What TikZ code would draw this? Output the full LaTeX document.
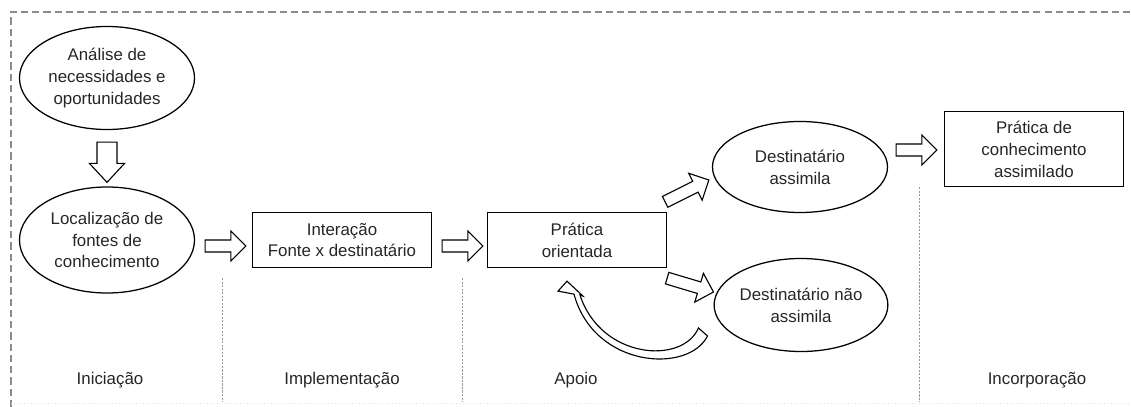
\documentclass[tikz,border=0pt]{standalone}
\usepackage{fontspec}
\setmainfont{Liberation Sans}
\usetikzlibrary{calc,shapes.geometric}

\tikzset{
  etapa/.style={ellipse, draw, line width=0.9pt, inner sep=0pt, align=center,
    minimum width=4.375cm, minimum height=2.575cm},
  caixa/.style={rectangle, draw, line width=0.9pt, inner sep=0pt, align=center,
    minimum width=4.475cm, minimum height=1.375cm},
  fase/.style={inner sep=0pt},
  seta/.style={draw, fill=white, line width=0.8pt, line join=miter},
  moldura/.style={draw=black!45, line width=1pt, dash pattern=on 5pt off 3pt},
  divisor/.style={draw=black!40, line width=0.4pt, dash pattern=on 1.5pt off 1pt},
}

% hollow block arrow from #1 to #2
\def\faw{0.15cm}\def\faW{0.375cm}\def\faL{0.375cm}
\newcommand{\fatarrow}[2]{%
  \path (#1) coordinate (fa-s) (#2) coordinate (fa-e);
  \path ($(fa-e)!\faL!(fa-s)$) coordinate (fa-h);
  \draw[seta] ($(fa-s)!\faw!90:(fa-e)$) -- ($(fa-h)!\faw!90:(fa-e)$)
    -- ($(fa-h)!\faW!90:(fa-e)$) -- (fa-e) -- ($(fa-h)!\faW!-90:(fa-e)$)
    -- ($(fa-h)!\faw!-90:(fa-e)$) -- ($(fa-s)!\faw!-90:(fa-e)$) -- cycle;}

\begin{document}
\begin{tikzpicture}[x=0.025cm, y=-0.025cm, font=\fontsize{12}{15.6}\selectfont, text=black!85]
  \useasboundingbox (0,0) rectangle (1131,407);

  % frame and phases
  \draw[moldura] (11,407) -- (11,12) -- (1131,12);
  \draw[draw=black!12, line width=0.4pt, dotted] (11,403) -- (1131,403);
  \draw[divisor] (222,278) -- (222,402);
  \draw[divisor] (462,278) -- (462,402);
  \draw[divisor] (919,187) -- (919,402);

  \node[etapa] (ana) at (107,78) {Análise de\\necessidades e\\oportunidades};
  \node[etapa, minimum height=2.65cm] (loc) at (107,240) {Localização de\\fontes de\\conhecimento};
  \node[caixa] (int) at (342,240) {Interação\\Fonte x destinatário};
  \node[caixa] (pra) at (577,240) {Prática\\orientada};
  \node[etapa, minimum height=2.275cm] (da) at (800,167) {Destinatário\\assimila};
  \node[etapa, minimum width=4.3cm, minimum height=2.325cm] (dn) at (801,305) {Destinatário não\\assimila};
  \node[caixa, minimum height=1.875cm] (pca) at (1034,149) {Prática de\\conhecimento\\assimilado};

  \node[fase] (f1) at (110,380) {Iniciação};
  \node[fase] (f2) at (342,380) {Implementação};
  \node[fase] (f3) at (576,380) {Apoio};
  \node[fase] (f4) at (1037,380) {Incorporação};

  {\def\faw{0.25cm}\def\faW{0.44cm}\def\faL{0.475cm}
   \fatarrow{$(ana.south)+(0,12)$}{$(loc.north)+(0,-4)$}}
  \fatarrow{$(loc.east)+(10,6)$}{$(int.west)+(-6,6)$}
  \fatarrow{$(int.east)+(10,6)$}{$(pra.west)+(-4,6)$}
  \fatarrow{$(pra.north east)+(-2,-10)$}{$(da.west)+(-3,13)$}
  \fatarrow{$(pra.south east)+(0,10)$}{$(dn.west)+(0,-13)$}
  \fatarrow{$(da.east)+(8,-17)$}{$(pca.west)+(-7,1)$}

  % curved return arrow
  \coordinate (vS) at ($(dn.west)+(-6,31)$);
  \coordinate (vT) at ($(pra.south)+(-10,13)$);
  \draw[seta] (vS) .. controls +(-19,38) and +(20,74) .. ($(vT)+(7,13)$)
    -- ($(vT)+(-9,10)$) -- (vT) -- ($(vT)+(16,15)$) -- ($(vT)+(13,14)$)
    .. controls +(21,64) and +(-16,37) .. ($(vS)+(-9,-8)$) -- cycle;
\end{tikzpicture}
\end{document}
